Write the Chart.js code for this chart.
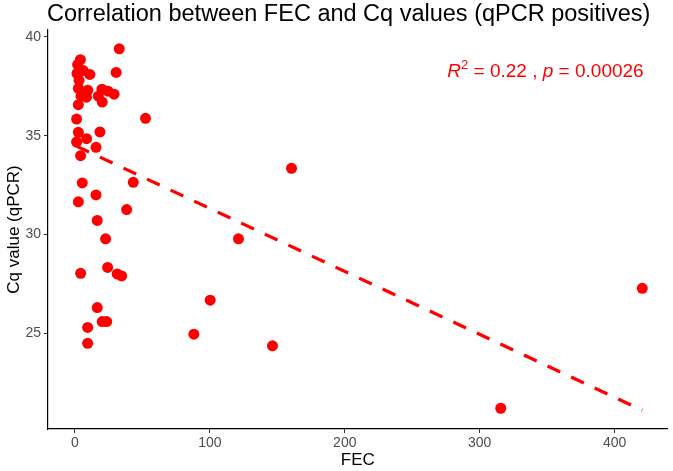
<!DOCTYPE html>
<html>
<head>
<meta charset="utf-8">
<script src="https://cdn.jsdelivr.net/npm/chart.js@4"></script>
<style>
  html, body { margin: 0; padding: 0; background: #fff; }
  #wrap { width: 673px; height: 471px; }
</style>
</head>
<body>
<div id="wrap"><canvas id="grafico" width="673" height="471"></canvas></div>
<script>
// FEC (eje x) y valores Cq (eje y)
const fec = [32.8, 4, 2, 30.5, 1.5, 6, 11, 3, 2.5, 6.5, 9.5, 20, 24.5, 29, 17.3, 8.5, 20.2, 2.5, 4.5,
  1.2, 52.3, 2.5, 18.5, 8.6, 1.2, 15.6, 4.2, 160.5, 5.4, 43.2, 15.6, 2.5, 38.3, 16.5, 22.7, 121.2,
  4.2, 24.2, 31.3, 34.6, 420.5, 100.2, 16.5, 20.2, 23.5, 9.4, 88.1, 9.4, 146.4, 315.6];
const cq = [39.4, 38.85, 38.6, 38.2, 38.15, 38.3, 38.1, 37.8, 37.4, 37.2, 37.3, 37.35, 37.25, 37.1, 37.0, 36.95, 36.7, 36.57, 37.0,
  35.84, 35.88, 35.17, 35.19, 34.85, 34.68, 34.41, 33.99, 33.35, 32.61, 32.64, 32.0, 31.65, 31.26, 30.71, 29.78, 29.78,
  28.03, 28.33, 28.0, 27.9, 27.27, 26.67, 26.3, 25.59, 25.59, 25.29, 24.95, 24.49, 24.36, 21.2];

// recta de regresion (extremos)
const ajusteX = [1, 420.5];
const ajusteY = [34.47, 21.1];

const ticksX = [0, 100, 200, 300, 400];
const ticksY = [25, 30, 35, 40];

const titulo = 'Correlation between FEC and Cq values (qPCR positives)';
const etiquetaR2 = '0.22';
const etiquetaP = '0.00026';

const rojo = '#ff0000';
const fuente = '"Liberation Sans", Arial, sans-serif';

const puntos = fec.map((x, i) => ({ x: x, y: cq[i] }));
const recta = ajusteX.map((x, i) => ({ x: x, y: ajusteY[i] }));

// titulo y anotacion R2 / p
const textos = {
    id: 'textos',
    afterDraw(chart) {
        const ctx = chart.ctx;
        ctx.save();
        ctx.fillStyle = '#000';
        ctx.font = '23.5px ' + fuente;
        ctx.textBaseline = 'alphabetic';
        ctx.textAlign = 'left';
        ctx.fillText(titulo, 47, 21);

        // anotacion
        const sx = chart.scales.x, sy = chart.scales.y;
        let x = sx.getPixelForValue(276);
        const y = sy.getPixelForValue(37.97);
        ctx.fillStyle = rojo;
        const partes = [
            ['italic 19px ', 'R', 0],
            ['13px ', '2', -8],
            ['19px ', ' = ' + etiquetaR2 + ' , ', 0],
            ['italic 19px ', 'p', 0],
            ['19px ', ' = ' + etiquetaP, 0]
        ];
        partes.forEach(p => {
            ctx.font = p[0] + fuente;
            ctx.fillText(p[1], x, y + p[2]);
            x += ctx.measureText(p[1]).width;
        });
        ctx.restore();
    }
};

const ctx = document.getElementById('grafico').getContext('2d');
new Chart(ctx, {
    type: 'scatter',
    data: {
        datasets: [
            {
                type: 'line',
                label: 'ajuste',
                data: recta,
                borderColor: rojo,
                borderWidth: 3.2,
                borderDash: [14, 12],
                pointRadius: 0,
                fill: false
            },
            {
                label: 'Cq',
                data: puntos,
                backgroundColor: rojo,
                borderColor: rojo,
                pointRadius: 5.5,
                pointBorderWidth: 0
            }
        ]
    },
    options: {
        responsive: false,
        animation: false,
        layout: { padding: { top: 30, right: 1, left: 0, bottom: 0 } },
        plugins: {
            legend: { display: false },
            tooltip: { enabled: false }
        },
        scales: {
            x: {
                type: 'linear',
                min: -20,
                max: 439.2,
                afterBuildTicks: s => { s.ticks = ticksX.map(v => ({ value: v })); },
                afterFit: s => { s.height = 42; },
                border: { display: true, color: '#000', width: 1.2 },
                grid: { display: true, drawOnChartArea: false, drawTicks: true, tickLength: 4, color: '#333' },
                ticks: { color: '#4d4d4d', font: { family: fuente, size: 14 }, padding: 2, maxRotation: 0 },
                title: { display: true, text: 'FEC', color: '#000', font: { family: fuente, size: 17 }, padding: { top: 0, bottom: 0 } }
            },
            y: {
                type: 'linear',
                min: 20.15,
                max: 40.35,
                afterBuildTicks: s => { s.ticks = ticksY.map(v => ({ value: v })); },
                afterFit: s => { s.width = 48; },
                border: { display: true, color: '#000', width: 1.2 },
                grid: { display: true, drawOnChartArea: false, drawTicks: true, tickLength: 4, color: '#333' },
                ticks: { color: '#4d4d4d', font: { family: fuente, size: 14 }, padding: 3 },
                title: { display: true, text: 'Cq value (qPCR)', color: '#000', font: { family: fuente, size: 17 }, padding: { top: 4, bottom: 0 } }
            }
        }
    },
    plugins: [textos]
});
</script>
</body>
</html>
